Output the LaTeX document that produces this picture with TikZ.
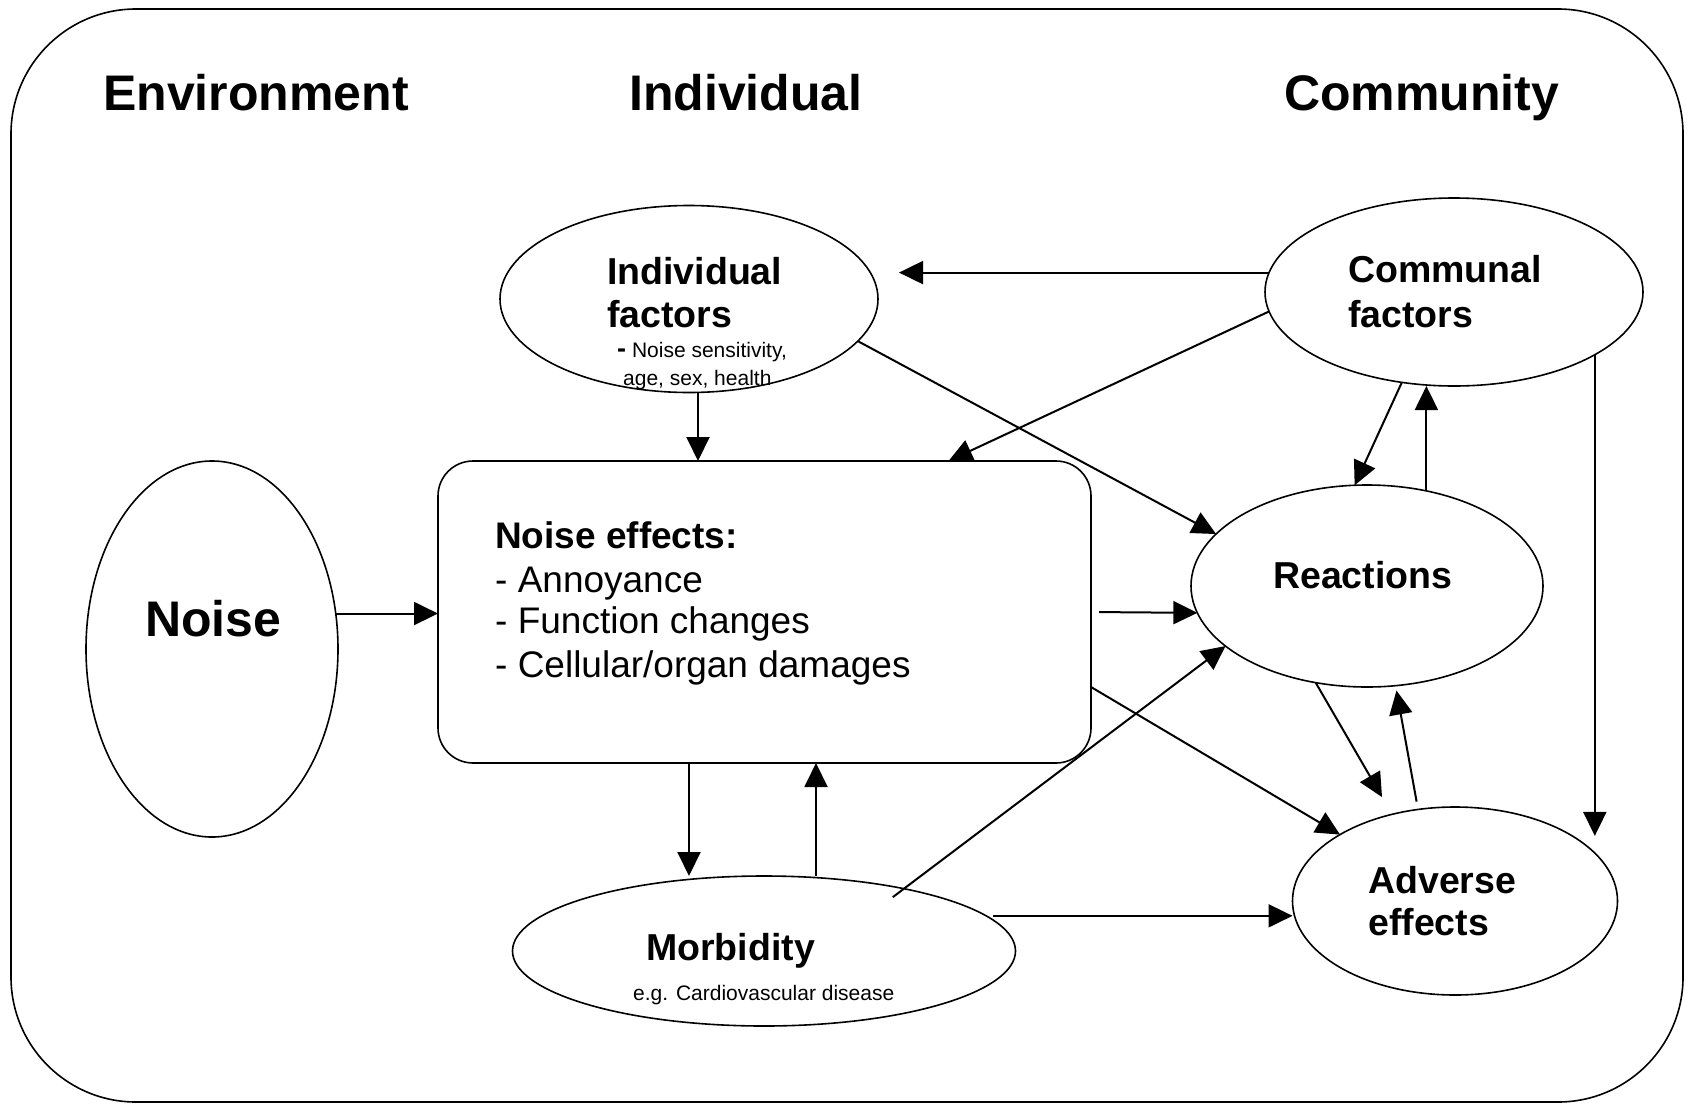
\documentclass[tikz,border=0pt]{standalone}
\usepackage{fontspec}
\setmainfont{Liberation Sans}
\usetikzlibrary{shapes.geometric,arrows.meta,calc}
\begin{document}
\begin{tikzpicture}[x=1pt,y=-1pt,
  ell/.style={draw,ellipse,line width=1.6pt,inner sep=0pt,outer sep=0pt},
  boxed/.style={draw,line width=1.6pt,rounded corners=35pt,inner sep=0pt,outer sep=0pt},
  arr/.style={-{Triangle[length=24pt,width=23pt]},line width=2pt},
  ttl/.style={anchor=base west,font=\fontsize{50}{60}\selectfont\bfseries,inner sep=0pt},
  lbl/.style={anchor=base west,font=\fontsize{37.5}{43}\selectfont\bfseries,inner sep=0pt},
  txt/.style={anchor=base west,font=\fontsize{37}{43}\selectfont,inner sep=0pt},
  small/.style={anchor=base west,font=\fontsize{21}{25}\selectfont,inner sep=0pt}]
\useasboundingbox (0,0) rectangle (1694,1103);
\draw[line width=1.6pt,rounded corners=125pt] (11,9) rectangle (1683,1102);

% titles
\node[ttl] (tenv) at (103,110) {Environment};
\node[ttl] (tind) at (629,110) {Individual};
\node[ttl] (tcom) at (1284,110) {Community};

% shapes
\node[ell,minimum width=252pt,minimum height=376pt] (noise) at (212,649) {};
\node[boxed,minimum width=653pt,minimum height=302pt] (effects) at (764.5,612) {};
\node[ell,minimum width=378pt,minimum height=187pt] (indf) at (689,299) {};
\node[ell,minimum width=378pt,minimum height=188pt] (comf) at (1454,292) {};
\node[ell,minimum width=352pt,minimum height=202pt] (react) at (1367,586) {};
\node[ell,minimum width=325pt,minimum height=188pt] (adv) at (1455,901) {};
\node[ell,minimum width=503pt,minimum height=150pt] (morb) at (764,951) {};

% texts
\node[ttl] (tnoise) at (145,636) {Noise};
\node[lbl] (tindf1) at (607,284) {Individual};
\node[lbl] (tindf2) at (607,327) {factors};
\node[small] (tindf3) at (617,357) {{\fontsize{27}{30}\selectfont\bfseries -} Noise sensitivity,};
\node[small] (tindf4) at (623,385) {age, sex, health};
\node[lbl,font=\fontsize{37}{43}\selectfont\bfseries] (teff1) at (495,548) {Noise effects:};
\node[txt] (teff2) at (495,592) {- Annoyance};
\node[txt] (teff3) at (495,633) {- Function changes};
\node[txt] (teff4) at (495,677) {- Cellular/organ damages};
\node[lbl] (tcom1) at (1348,282) {Communal};
\node[lbl] (tcom2) at (1348,327) {factors};
\node[lbl] (treact) at (1273,588) {Reactions};
\node[lbl] (tadv1) at (1368,893) {Adverse};
\node[lbl] (tadv2) at (1368,935) {effects};
\node[lbl] (tmorb) at (646,960) {Morbidity};
\node[small] (tmorb2) at (633,1000) {e.g. Cardiovascular disease};

% connectors
\draw[arr] (noise.16) -- (noise.16 -| effects.west);
\draw[arr] ([xshift=9pt]indf.south) -- ([xshift=9pt]indf.south |- effects.north);
\draw[arr,shorten >=21pt] (comf.174) -- (comf.174 -| indf.east);
\draw[arr] (comf.186) -- ([xshift=184pt]effects.north);
\draw[arr] (indf.-14) -- (react.161);
\draw[arr,shorten <=8pt] (effects.east) -- (react.189);
\draw[arr] ([yshift=-75pt]effects.east) -- (adv.150);
\draw[arr] ([xshift=-75.5pt]effects.south) -- ([xshift=-75.5pt]effects.south |- morb.north);
\draw[arr] ([xshift=51.5pt]effects.south |- morb.north) -- ([xshift=51.5pt]effects.south);
\draw[arr,shorten <=-14pt] (morb.24) -- (react.203);
\draw[arr,shorten <=7pt] (morb.9.6) -- (morb.9.6 -| adv.west);
\draw[arr] (comf.240) -- (react.97.5);
\draw[arr] (react.58.2) -- (react.58.2 |- comf.south);
\draw[arr,shorten >=20pt] (react.242.2) -- (adv.126.3);
\draw[arr,shorten <=8pt,shorten >=5pt] (adv.112.6) -- (react.286.8);
\draw[arr,shorten >=17pt] (comf.-24.2) -- (comf.-24.2 |- adv.19.4);
\end{tikzpicture}
\end{document}
